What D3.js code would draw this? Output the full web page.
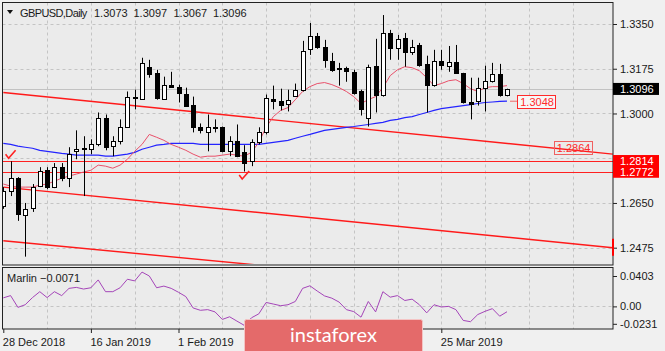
<!DOCTYPE html>
<html>
<head>
<meta charset="utf-8">
<script src="https://cdn.jsdelivr.net/npm/d3@7/dist/d3.min.js"></script>
<style>
    body { margin: 0; background: #f0f0f0; }
    svg text { font-family: "Liberation Sans", Arial, sans-serif; font-size: 11px; fill: #1a1a1a; }
</style>
</head>
<body>
<svg id="chart" width="665" height="351"></svg>
<script>
// daily bars, 28 Dec 2018 .. 5 Apr 2019
var opens = [1.2638, 1.2697, 1.2747, 1.2603, 1.2631, 1.2716, 1.2778, 1.2712, 1.2790, 1.2747,
    1.2852, 1.2864, 1.2860, 1.2879, 1.2984, 1.2872, 1.2891, 1.2949, 1.3064, 1.3058,
    1.3183, 1.3159, 1.3058, 1.3113, 1.3105, 1.3078, 1.3035, 1.2946, 1.2926, 1.2949,
    1.2946, 1.2852, 1.2891, 1.2848, 1.2813, 1.2887, 1.2926, 1.3058, 1.3047, 1.3039,
    1.3070, 1.3093, 1.3253, 1.3303, 1.3261, 1.3206, 1.3179, 1.3179, 1.3163, 1.3086,
    1.2984, 1.3187, 1.3074, 1.3315, 1.3257, 1.3296, 1.3241, 1.3268, 1.3194, 1.3113,
    1.3206, 1.3187, 1.3202, 1.3159, 1.3045, 1.3047, 1.3101, 1.3128, 1.3156, 1.3073];
var highs = [1.2712, 1.2813, 1.2751, 1.2650, 1.2724, 1.2790, 1.2790, 1.2806, 1.2806, 1.2868,
    1.2934, 1.2911, 1.2899, 1.3004, 1.2996, 1.2911, 1.2977, 1.3086, 1.3093, 1.3218,
    1.3210, 1.3171, 1.3144, 1.3163, 1.3113, 1.3101, 1.3066, 1.2961, 1.2996, 1.2977,
    1.2949, 1.2911, 1.2957, 1.2876, 1.2899, 1.2946, 1.3074, 1.3109, 1.3097, 1.3093,
    1.3117, 1.3284, 1.3354, 1.3315, 1.3288, 1.3237, 1.3198, 1.3183, 1.3171, 1.3093,
    1.3191, 1.3292, 1.3385, 1.3327, 1.3307, 1.3315, 1.3288, 1.3276, 1.3226, 1.3249,
    1.3249, 1.3264, 1.3268, 1.3159, 1.3140, 1.3140, 1.3187, 1.3198, 1.3194, 1.3097];
var lows = [1.2627, 1.2677, 1.2580, 1.2440, 1.2615, 1.2712, 1.2704, 1.2708, 1.2735, 1.2712,
    1.2821, 1.2677, 1.2841, 1.2872, 1.2856, 1.2833, 1.2879, 1.2946, 1.3016, 1.3054,
    1.3140, 1.3054, 1.3054, 1.3101, 1.3043, 1.3027, 1.2926, 1.2922, 1.2852, 1.2926,
    1.2848, 1.2833, 1.2829, 1.2773, 1.2794, 1.2879, 1.2918, 1.3016, 1.3012, 1.3008,
    1.3066, 1.3086, 1.3229, 1.3253, 1.3179, 1.3163, 1.3109, 1.3124, 1.3074, 1.2992,
    1.2949, 1.3004, 1.3066, 1.3210, 1.3210, 1.3183, 1.3229, 1.3183, 1.3004, 1.3105,
    1.3171, 1.3163, 1.3156, 1.3039, 1.2977, 1.3031, 1.3008, 1.3121, 1.3066, 1.3067];
var closes = [1.2697, 1.2747, 1.2607, 1.2627, 1.2712, 1.2774, 1.2712, 1.2790, 1.2747, 1.2841,
    1.2860, 1.2860, 1.2879, 1.2984, 1.2868, 1.2891, 1.2949, 1.3066, 1.3060, 1.3198,
    1.3156, 1.3062, 1.3113, 1.3105, 1.3082, 1.3031, 1.2949, 1.2934, 1.2949, 1.2942,
    1.2852, 1.2891, 1.2833, 1.2806, 1.2887, 1.2926, 1.3062, 1.3050, 1.3035, 1.3054,
    1.3093, 1.3245, 1.3303, 1.3261, 1.3210, 1.3171, 1.3173, 1.3167, 1.3082, 1.3016,
    1.3183, 1.3074, 1.3315, 1.3257, 1.3292, 1.3241, 1.3261, 1.3191, 1.3113, 1.3206,
    1.3191, 1.3202, 1.3159, 1.3043, 1.3039, 1.3101, 1.3128, 1.3156, 1.3074, 1.3096];

var maFast = [1.2724, 1.2716, 1.2712, 1.2712, 1.2712, 1.2720, 1.2724, 1.2735, 1.2747, 1.2755,
    1.2763, 1.2771, 1.2778, 1.2798, 1.2794, 1.2786, 1.2798, 1.2821, 1.2852, 1.2879,
    1.2918, 1.2907, 1.2895, 1.2879, 1.2868, 1.2856, 1.2841, 1.2829, 1.2833, 1.2833,
    1.2837, 1.2841, 1.2837, 1.2833, 1.2848, 1.2887, 1.2946, 1.2988, 1.3012, 1.3023,
    1.3054, 1.3086, 1.3105, 1.3117, 1.3121, 1.3113, 1.3101, 1.3086, 1.3066, 1.3039,
    1.3054, 1.3066, 1.3101, 1.3148, 1.3171, 1.3183, 1.3179, 1.3167, 1.3140, 1.3109,
    1.3117, 1.3128, 1.3132, 1.3117, 1.3097, 1.3086, 1.3101, 1.3105, 1.3105, 1.3109];
var maSlow = [1.2883, 1.2879, 1.2872, 1.2868, 1.2864, 1.2856, 1.2852, 1.2848, 1.2844, 1.2841,
    1.2837, 1.2837, 1.2837, 1.2837, 1.2833, 1.2833, 1.2837, 1.2841, 1.2848, 1.2860,
    1.2868, 1.2876, 1.2879, 1.2883, 1.2883, 1.2883, 1.2883, 1.2879, 1.2879, 1.2879,
    1.2879, 1.2879, 1.2879, 1.2879, 1.2879, 1.2879, 1.2883, 1.2887, 1.2891, 1.2895,
    1.2903, 1.2911, 1.2918, 1.2926, 1.2934, 1.2938, 1.2942, 1.2946, 1.2949, 1.2953,
    1.2957, 1.2961, 1.2965, 1.2973, 1.2977, 1.2984, 1.2988, 1.2996, 1.3004, 1.3012,
    1.3019, 1.3023, 1.3027, 1.3031, 1.3035, 1.3039, 1.3043, 1.3045, 1.3047, 1.3048];
var marlin = [0.0113, 0.0143, -0.0013, 0.0022, 0.0117, 0.0195, 0.0117, 0.0195, 0.0143, 0.0239,
    0.0252, 0.0230, 0.0247, 0.0351, 0.0195, 0.0195, 0.0247, 0.0360, 0.0338, 0.0455,
    0.0403, 0.0247, 0.0269, 0.0239, 0.0187, 0.0130, -0.0021, -0.0052, -0.0043, -0.0073,
    -0.0173, -0.0138, -0.0195, -0.0251, -0.0151, -0.0099, 0.0052, 0.0031, 0.0009, 0.0022,
    0.0065, 0.0239, 0.0273, 0.0204, 0.0139, 0.0109, 0.0057, -0.0043, -0.0069, -0.0143,
    0.0065, -0.0073, 0.0195, 0.0122, 0.0143, 0.0078, 0.0096, 0.0022, -0.0086, 0.0022,
    -0.0008, 0.0000, -0.0043, -0.0186, -0.0203, -0.0108, -0.0065, -0.0030, -0.0130, -0.0071];

var priceTicks = [1.3350, 1.3175, 1.3000, 1.2825, 1.2650, 1.2475];
var marlinTicks = [0.0403, 0.00, -0.0231];
var marlinTickText = ["0.0403", "0.00", "-0.0231"];
var dateIdx = [0, 12, 24, 60];
var dateLabels = ["28 Dec 2018", "16 Jan 2019", "1 Feb 2019", "25 Mar 2019"];
var levels = [1.2814, 1.2772];
// channel lines: [bar index, price] at both ends
var channel = [
    [[0, 1.3082], [83.5, 1.2841]],
    [[0, 1.2712], [83.5, 1.2475]],
    [[0, 1.2502], [83.5, 1.2275]]
];
var checks = [[1, 1.2852], [33, 1.2771]];
var header = ["GBPUSD,Daily", "1.3073", "1.3097", "1.3067", "1.3096"];

var leftX = 2.5, rightX = 613, topY = 2.5, mainBottom = 265, subTop = 267.5, subBottom = 329;
var lastIdx = closes.length - 1;

var xScale = d3.scaleLinear().domain([0, 83.5]).range([3.3, 612.85]);
var yScale = d3.scaleLinear().domain([1.2475, 1.3350]).range([247.7, 24]);
var mScale = d3.scaleLinear().domain([-0.0231, 0.0403]).range([323.8, 276]);

var svg = d3.select("#chart");

svg.append("rect").attr("x", leftX).attr("y", topY).attr("width", rightX - leftX).attr("height", mainBottom - topY)
    .style("fill", "#ebebeb");
svg.append("rect").attr("x", leftX).attr("y", subTop).attr("width", rightX - leftX).attr("height", subBottom - subTop)
    .style("fill", "#ebebeb");

var defs = svg.append("defs");
defs.append("clipPath").attr("id", "clipMain").append("rect")
    .attr("x", leftX).attr("y", topY).attr("width", rightX - leftX).attr("height", mainBottom - 1 - topY);
defs.append("clipPath").attr("id", "clipSub").append("rect")
    .attr("x", leftX).attr("y", subTop).attr("width", rightX - leftX).attr("height", subBottom - subTop);

var gridIdx = d3.range(6, 84, 6);

// grid
var grid = svg.append("g").style("stroke", "#c4c4c4").style("stroke-dasharray", "3,3");
grid.selectAll("line.h").data(priceTicks).join("line").attr("class", "h")
    .attr("x1", leftX).attr("x2", rightX)
    .attr("y1", d => Math.round(yScale(d)) + 0.5).attr("y2", d => Math.round(yScale(d)) + 0.5);
grid.selectAll("line.v").data(gridIdx).join("line").attr("class", "v")
    .attr("x1", d => Math.round(xScale(d)) + 0.5).attr("x2", d => Math.round(xScale(d)) + 0.5)
    .attr("y1", topY).attr("y2", mainBottom);
grid.selectAll("line.sv").data(gridIdx).join("line").attr("class", "sv")
    .attr("x1", d => Math.round(xScale(d)) + 0.5).attr("x2", d => Math.round(xScale(d)) + 0.5)
    .attr("y1", subTop).attr("y2", subBottom);
grid.append("line").attr("x1", leftX).attr("x2", rightX)
    .attr("y1", Math.round(mScale(0)) + 0.5).attr("y2", Math.round(mScale(0)) + 0.5);

var main = svg.append("g").attr("clip-path", "url(#clipMain)");

// bid line
main.append("line").attr("x1", leftX).attr("x2", rightX)
    .attr("y1", Math.round(yScale(closes[lastIdx])) + 0.5).attr("y2", Math.round(yScale(closes[lastIdx])) + 0.5)
    .style("stroke", "#c2c2c2").style("stroke-width", 1);

// channel and levels
main.selectAll("line.chan").data(channel).join("line").attr("class", "chan")
    .attr("x1", d => xScale(d[0][0])).attr("y1", d => yScale(d[0][1]))
    .attr("x2", d => xScale(d[1][0])).attr("y2", d => yScale(d[1][1]))
    .style("stroke", "#ff1a1a").style("stroke-width", 1.4);
main.selectAll("line.lvl").data(levels).join("line").attr("class", "lvl")
    .attr("x1", leftX).attr("x2", rightX)
    .attr("y1", d => Math.round(yScale(d)) + 0.5).attr("y2", d => Math.round(yScale(d)) + 0.5)
    .style("stroke", "#ff2020").style("stroke-width", 1);

// moving averages
var maLine = d3.line().x((d, i) => xScale(i)).y(d => yScale(d));
main.append("path").attr("d", maLine(maSlow))
    .style("fill", "none").style("stroke", "#2424ff").style("stroke-width", 1.2);
main.append("path").attr("d", maLine(maFast))
    .style("fill", "none").style("stroke", "#e8506a").style("stroke-width", 1);

// candles
var bars = main.selectAll("g.bar").data(d3.range(closes.length)).join("g").attr("class", "bar");
bars.append("line")
    .attr("x1", i => Math.round(xScale(i)) + 0.5).attr("x2", i => Math.round(xScale(i)) + 0.5)
    .attr("y1", i => yScale(highs[i])).attr("y2", i => yScale(lows[i]))
    .style("stroke", "#000").style("stroke-width", 1);
bars.append("rect")
    .attr("x", i => Math.round(xScale(i)) - 1.5)
    .attr("width", 4)
    .attr("y", i => Math.round(yScale(Math.max(opens[i], closes[i]))) + 0.5)
    .attr("height", i => Math.max(1, Math.round(yScale(Math.min(opens[i], closes[i]))) - Math.round(yScale(Math.max(opens[i], closes[i])))))
    .style("fill", i => closes[i] >= opens[i] ? "#fff" : "#000")
    .style("stroke", "#000").style("stroke-width", 1);

// check arrows
main.selectAll("path.chk").data(checks).join("path").attr("class", "chk")
    .attr("d", d => {
        var cx = xScale(d[0]), cy = yScale(d[1]);
        return "M" + (cx - 5) + "," + (cy + 3) + " L" + (cx - 2) + "," + (cy + 7) + " L" + (cx + 5) + "," + (cy - 1);
    })
    .style("fill", "none").style("stroke", "#ff2020").style("stroke-width", 1.6);

// marlin panel
var sub = svg.append("g").attr("clip-path", "url(#clipSub)");
sub.append("path")
    .attr("d", d3.line().x((d, i) => xScale(i)).y(d => mScale(d))(marlin))
    .style("fill", "none").style("stroke", "#a445b8").style("stroke-width", 1);

// frames
svg.append("rect").attr("x", leftX).attr("y", topY).attr("width", rightX - leftX).attr("height", mainBottom - topY)
    .style("fill", "none").style("stroke", "#222");
svg.append("rect").attr("x", leftX).attr("y", subTop).attr("width", rightX - leftX).attr("height", subBottom - subTop)
    .style("fill", "none").style("stroke", "#222");

// price axis (1.2825 label sits under the level tags, only its tick is left)
var yAxis = d3.axisRight(yScale).tickValues(priceTicks).tickSize(4).tickPadding(3)
    .tickFormat(d => d === 1.2825 ? "" : d3.format(".4f")(d));
var gy = svg.append("g").attr("transform", "translate(" + rightX + ",0)").call(yAxis);
gy.select(".domain").remove();
gy.selectAll("line").style("stroke", "#222");
gy.selectAll("text").style("font-size", "11px").style("font-family", "Liberation Sans, Arial, sans-serif").attr("fill", "#1a1a1a");

var mAxis = d3.axisRight(mScale).tickValues(marlinTicks).tickSize(4).tickPadding(3)
    .tickFormat((d, i) => marlinTickText[i]);
var gm = svg.append("g").attr("transform", "translate(" + rightX + ",0)").call(mAxis);
gm.select(".domain").remove();
gm.selectAll("line").style("stroke", "#222");
gm.selectAll("text").style("font-size", "11px").style("font-family", "Liberation Sans, Arial, sans-serif").attr("fill", "#1a1a1a");

// level tags on the axis
var tags = svg.append("g");
function axisTag(price, fill, txt) {
    var cy = yScale(price);
    tags.append("rect").attr("x", rightX).attr("y", cy - 6).attr("width", 46).attr("height", 12).style("fill", fill);
    tags.append("text").attr("x", rightX + 7).attr("y", cy + 4).style("fill", "#fff").text(txt);
}
axisTag(closes[lastIdx], "#000", d3.format(".4f")(closes[lastIdx]));
levels.forEach(function (p) { axisTag(p, "#ff0000", d3.format(".4f")(p)); });

// trendline end marker
svg.append("line").attr("x1", rightX).attr("x2", rightX)
    .attr("y1", yScale(channel[1][1][1]) - 9).attr("y2", yScale(channel[1][1][1]) + 8)
    .style("stroke", "#ff0000").style("stroke-width", 2);

// value boxes inside the chart
function boxLabel(idx, price, txt, fill, stroke) {
    var bx = xScale(idx), by = yScale(price);
    svg.append("rect").attr("x", Math.round(bx) + 0.5).attr("y", Math.round(by) - 6.5).attr("width", 38).attr("height", 13)
        .style("fill", fill).style("stroke", stroke);
    svg.append("text").attr("x", bx + 3).attr("y", Math.round(by) + 4).style("fill", "#ff2a2a").text(txt);
}
svg.append("line").attr("x1", xScale(lastIdx) + 3).attr("x2", xScale(lastIdx + 1.4))
    .attr("y1", yScale(maSlow[lastIdx])).attr("y2", yScale(maSlow[lastIdx]))
    .style("stroke", "#f06a6a");
boxLabel(lastIdx + 1.4, maSlow[lastIdx] - 0.0005, d3.format(".4f")(maSlow[lastIdx]), "#f7f7f7", "#ff2a2a");
boxLabel(75.4, 1.2864, "1.2864", "none", "#f06060");

// date axis
var xAxis = d3.axisBottom(xScale).tickValues(dateIdx).tickSize(4).tickPadding(3)
    .tickFormat((d, i) => dateLabels[i]);
var gx = svg.append("g").attr("transform", "translate(0," + subBottom + ")").call(xAxis);
gx.select(".domain").remove();
gx.selectAll("line").style("stroke", "#222");
gx.selectAll("text").attr("text-anchor", "start").attr("dx", -1).attr("dy", "0.9em")
    .style("font-size", "11px").style("font-family", "Liberation Sans, Arial, sans-serif").attr("fill", "#1a1a1a");

// header
svg.append("path").attr("d", "M7,10 L13,10 L10,14 Z").style("fill", "#111");
var headX = [20, 94, 133.5, 173.5, 213];
svg.selectAll("text.head").data(header).join("text").attr("class", "head")
    .attr("x", (d, i) => headX[i]).attr("y", 16.5)
    .style("letter-spacing", (d, i) => i === 0 ? "-0.6px" : "0px")
    .text(d => d);
svg.append("text").attr("x", 7).attr("y", 281.5).text("Marlin " + d3.format(".4f")(marlin[lastIdx]));

// watermark
svg.append("rect").attr("x", 244.5).attr("y", 319.5).attr("width", 178).attr("height", 34).attr("rx", 2)
    .style("fill", "#e46a6a").style("stroke", "#f4c4c4");
svg.append("text").attr("x", 290).attr("y", 342)
    .style("font-family", "Lato, 'Open Sans', sans-serif").style("font-size", "20px").style("fill", "#fff")
    .text("instaforex");
</script>
</body>
</html>
